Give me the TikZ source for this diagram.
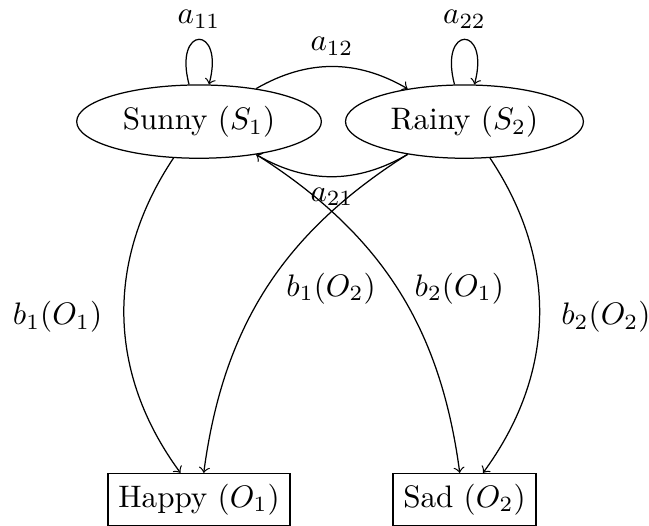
\documentclass[tikz,border=0pt]{standalone}
\usetikzlibrary{shapes.geometric,positioning}

\begin{document}
\begin{tikzpicture}[
    state/.style={draw, ellipse},
    obs/.style={draw, rectangle},
    auto,
]
\useasboundingbox (-64pt,-130pt) rectangle (144.7pt,39.1pt);
\node[state] (sunny) at (0,0) {Sunny ($S_1$)};
\node[state] (rainy) at (3,0) {Rainy ($S_2$)};
\node[obs] (happy) at (0,-4.27) {Happy ($O_1$)};
\node[obs] (sad) at (3,-4.27) {Sad ($O_2$)};

% transitions
\draw[->] (sunny) to[loop above] node {$a_{11}$} (sunny);
\draw[->] (rainy) to[loop above] node {$a_{22}$} (rainy);
\draw[->] (sunny) to[bend left] node {$a_{12}$} (rainy);
\draw[->] (rainy) to[bend left] node {$a_{21}$} (sunny);

% emissions
\draw[->] (sunny) to[bend right=35] node[left=3.5pt] {$b_1(O_1)$} (happy);
\draw[->] (sunny) to[bend left=25] node[right=2pt] {$b_2(O_1)$} (sad);
\draw[->] (rainy) to[bend right=25] node[right=3pt] {$b_1(O_2)$} (happy);
\draw[->] (rainy) to[bend left=35] node[right=3.5pt] {$b_2(O_2)$} (sad);
\end{tikzpicture}
\end{document}
